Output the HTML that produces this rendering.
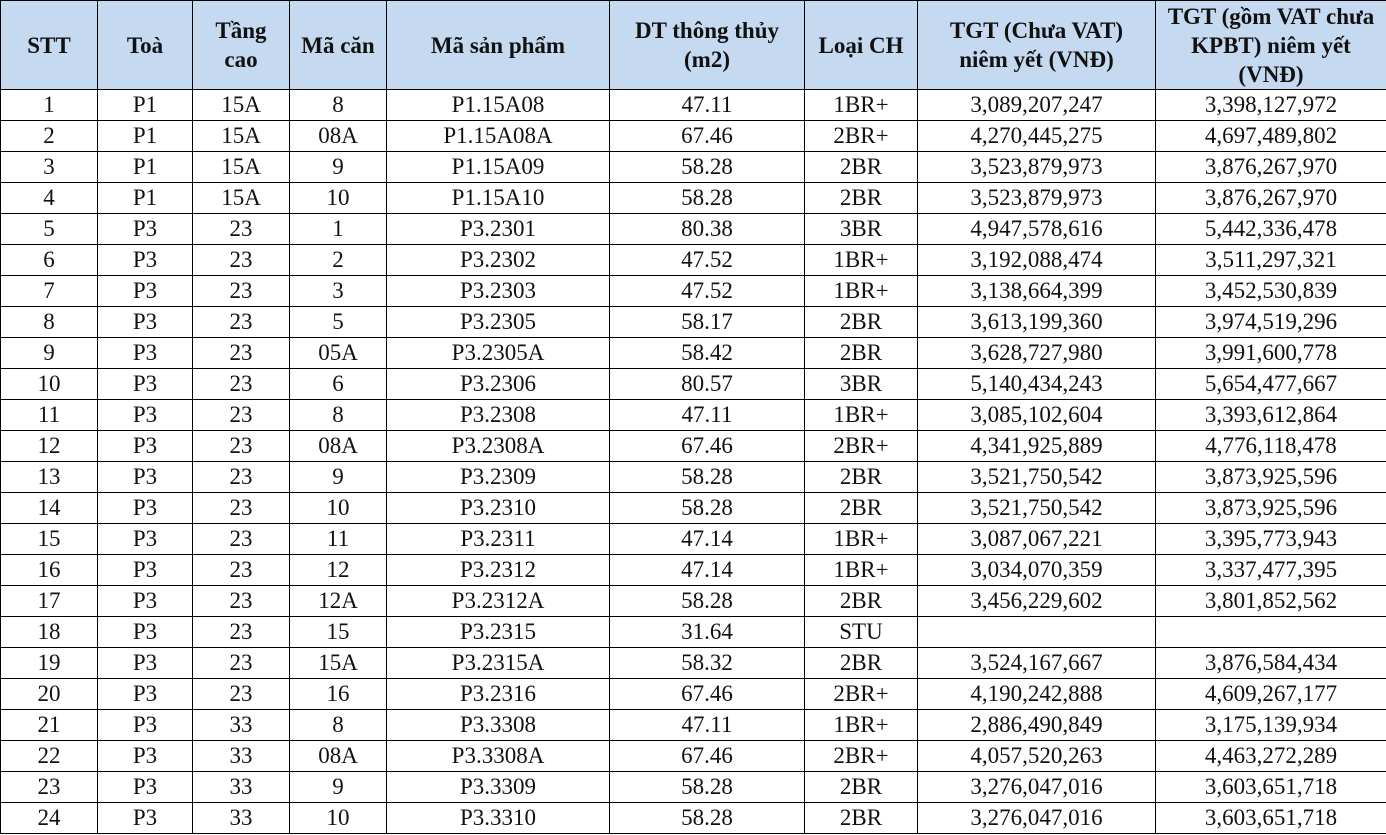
<!DOCTYPE html>
<html><head><meta charset="utf-8"><style>
html,body{margin:0;padding:0;background:#fff;width:1386px;height:835px;overflow:hidden}
table{border-collapse:collapse;table-layout:fixed;width:1386px;font-family:"Liberation Serif",serif;color:#111}
td,th{border:1.5px solid #000;text-align:center;padding:0;white-space:nowrap;overflow:hidden}
th{background:#c5d9f1;font-weight:bold;font-size:23px;line-height:29px;height:88px}
td{font-size:23px;height:30px;line-height:30px}
td div{height:30px;line-height:31px;overflow:hidden;padding-top:1px;box-sizing:border-box}
</style></head><body>
<table>
<colgroup><col style="width:97px"><col style="width:95px"><col style="width:97px"><col style="width:97px"><col style="width:223px"><col style="width:195px"><col style="width:113px"><col style="width:238px"><col style="width:231px"></colgroup>
<tr><th>STT</th><th>Toà</th><th>Tầng<br>cao</th><th>Mã căn</th><th>Mã sản phẩm</th><th>DT thông thủy<br>(m2)</th><th>Loại CH</th><th>TGT (Chưa VAT)<br>niêm yết (VNĐ)</th><th>TGT (gồm VAT chưa<br>KPBT) niêm yết<br>(VNĐ)</th></tr>
<tr><td>1</td><td>P1</td><td>15A</td><td>8</td><td>P1.15A08</td><td>47.11</td><td>1BR+</td><td>3,089,207,247</td><td>3,398,127,972</td></tr>
<tr><td>2</td><td>P1</td><td>15A</td><td>08A</td><td>P1.15A08A</td><td>67.46</td><td>2BR+</td><td>4,270,445,275</td><td>4,697,489,802</td></tr>
<tr><td>3</td><td>P1</td><td>15A</td><td>9</td><td>P1.15A09</td><td>58.28</td><td>2BR</td><td>3,523,879,973</td><td>3,876,267,970</td></tr>
<tr><td>4</td><td>P1</td><td>15A</td><td>10</td><td>P1.15A10</td><td>58.28</td><td>2BR</td><td>3,523,879,973</td><td>3,876,267,970</td></tr>
<tr><td>5</td><td>P3</td><td>23</td><td>1</td><td>P3.2301</td><td>80.38</td><td>3BR</td><td>4,947,578,616</td><td>5,442,336,478</td></tr>
<tr><td>6</td><td>P3</td><td>23</td><td>2</td><td>P3.2302</td><td>47.52</td><td>1BR+</td><td>3,192,088,474</td><td>3,511,297,321</td></tr>
<tr><td>7</td><td>P3</td><td>23</td><td>3</td><td>P3.2303</td><td>47.52</td><td>1BR+</td><td>3,138,664,399</td><td>3,452,530,839</td></tr>
<tr><td>8</td><td>P3</td><td>23</td><td>5</td><td>P3.2305</td><td>58.17</td><td>2BR</td><td>3,613,199,360</td><td>3,974,519,296</td></tr>
<tr><td>9</td><td>P3</td><td>23</td><td>05A</td><td>P3.2305A</td><td>58.42</td><td>2BR</td><td>3,628,727,980</td><td>3,991,600,778</td></tr>
<tr><td>10</td><td>P3</td><td>23</td><td>6</td><td>P3.2306</td><td>80.57</td><td>3BR</td><td>5,140,434,243</td><td>5,654,477,667</td></tr>
<tr><td>11</td><td>P3</td><td>23</td><td>8</td><td>P3.2308</td><td>47.11</td><td>1BR+</td><td>3,085,102,604</td><td>3,393,612,864</td></tr>
<tr><td>12</td><td>P3</td><td>23</td><td>08A</td><td>P3.2308A</td><td>67.46</td><td>2BR+</td><td>4,341,925,889</td><td>4,776,118,478</td></tr>
<tr><td>13</td><td>P3</td><td>23</td><td>9</td><td>P3.2309</td><td>58.28</td><td>2BR</td><td>3,521,750,542</td><td>3,873,925,596</td></tr>
<tr><td>14</td><td>P3</td><td>23</td><td>10</td><td>P3.2310</td><td>58.28</td><td>2BR</td><td>3,521,750,542</td><td>3,873,925,596</td></tr>
<tr><td>15</td><td>P3</td><td>23</td><td>11</td><td>P3.2311</td><td>47.14</td><td>1BR+</td><td>3,087,067,221</td><td>3,395,773,943</td></tr>
<tr><td>16</td><td>P3</td><td>23</td><td>12</td><td>P3.2312</td><td>47.14</td><td>1BR+</td><td>3,034,070,359</td><td>3,337,477,395</td></tr>
<tr><td>17</td><td>P3</td><td>23</td><td>12A</td><td>P3.2312A</td><td>58.28</td><td>2BR</td><td>3,456,229,602</td><td>3,801,852,562</td></tr>
<tr><td>18</td><td>P3</td><td>23</td><td>15</td><td>P3.2315</td><td>31.64</td><td>STU</td><td></td><td></td></tr>
<tr><td>19</td><td>P3</td><td>23</td><td>15A</td><td>P3.2315A</td><td>58.32</td><td>2BR</td><td>3,524,167,667</td><td>3,876,584,434</td></tr>
<tr><td>20</td><td>P3</td><td>23</td><td>16</td><td>P3.2316</td><td>67.46</td><td>2BR+</td><td>4,190,242,888</td><td>4,609,267,177</td></tr>
<tr><td>21</td><td>P3</td><td>33</td><td>8</td><td>P3.3308</td><td>47.11</td><td>1BR+</td><td>2,886,490,849</td><td>3,175,139,934</td></tr>
<tr><td>22</td><td>P3</td><td>33</td><td>08A</td><td>P3.3308A</td><td>67.46</td><td>2BR+</td><td>4,057,520,263</td><td>4,463,272,289</td></tr>
<tr><td>23</td><td>P3</td><td>33</td><td>9</td><td>P3.3309</td><td>58.28</td><td>2BR</td><td>3,276,047,016</td><td>3,603,651,718</td></tr>
<tr><td>24</td><td>P3</td><td>33</td><td>10</td><td>P3.3310</td><td>58.28</td><td>2BR</td><td>3,276,047,016</td><td>3,603,651,718</td></tr>
</table>
</body></html>
